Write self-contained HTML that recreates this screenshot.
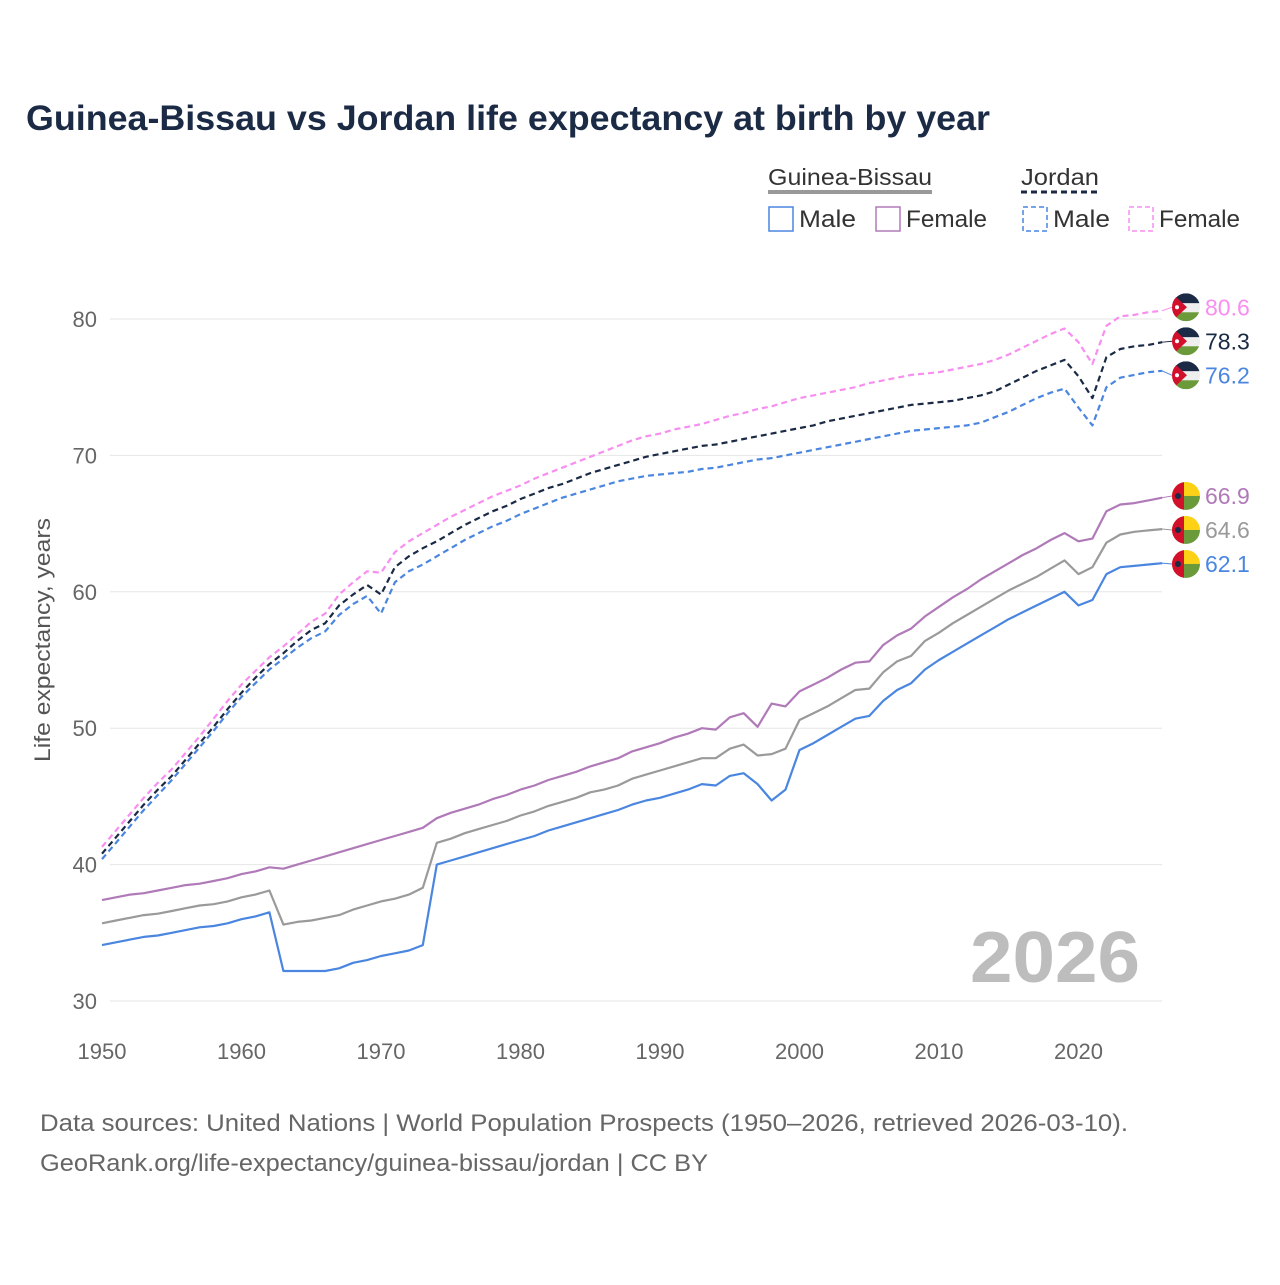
<!DOCTYPE html>
<html><head><meta charset="utf-8">
<style>
body{margin:0;background:#fff;font-family:"Liberation Sans",sans-serif;}
svg text{font-family:"Liberation Sans",sans-serif;}
</style></head>
<body>
<svg id="c" width="1280" height="1280" viewBox="0 0 1280 1280">
<text x="26" y="130" font-size="35" font-weight="bold" fill="#1c2b45" textLength="964" lengthAdjust="spacingAndGlyphs">Guinea-Bissau vs Jordan life expectancy at birth by year</text>
<g>
 <text x="768" y="185" font-size="23" fill="#333" textLength="164" lengthAdjust="spacingAndGlyphs">Guinea-Bissau</text>
 <line x1="768" y1="192" x2="932" y2="192" stroke="#999" stroke-width="4"/>
 <text x="1021" y="185" font-size="23" fill="#333" textLength="78" lengthAdjust="spacingAndGlyphs">Jordan</text>
 <line x1="1021" y1="192" x2="1099" y2="192" stroke="#1a2a44" stroke-width="3" stroke-dasharray="6,4"/>
 <g><rect x="769" y="207" width="24" height="24" fill="none" stroke="#4a86e0" stroke-width="1.5"/><text x="799" y="227" font-size="24" fill="#333" textLength="57" lengthAdjust="spacingAndGlyphs">Male</text></g>
 <g><rect x="876" y="207" width="24" height="24" fill="none" stroke="#b07ab8" stroke-width="1.5"/><text x="906" y="227" font-size="24" fill="#333" textLength="81" lengthAdjust="spacingAndGlyphs">Female</text></g>
 <g><rect x="1023" y="207" width="24" height="24" fill="none" stroke="#4a86e0" stroke-width="1.5" stroke-dasharray="5,3"/><text x="1053" y="227" font-size="24" fill="#333" textLength="57" lengthAdjust="spacingAndGlyphs">Male</text></g>
 <g><rect x="1129" y="207" width="24" height="24" fill="none" stroke="#f78ef0" stroke-width="1.5" stroke-dasharray="5,3"/><text x="1159" y="227" font-size="24" fill="#333" textLength="81" lengthAdjust="spacingAndGlyphs">Female</text></g>
</g>
<text transform="translate(50,640) rotate(-90)" text-anchor="middle" font-size="22" fill="#555" textLength="244" lengthAdjust="spacingAndGlyphs">Life expectancy, years</text>
<text x="1140" y="982" text-anchor="end" font-size="72" font-weight="bold" fill="#bdbdbd" textLength="170" lengthAdjust="spacingAndGlyphs">2026</text>
<g id="grid"></g><g id="lines"></g><g id="ends"></g>
<text x="40" y="1131" font-size="24" fill="#666" textLength="1088" lengthAdjust="spacingAndGlyphs">Data sources: United Nations | World Population Prospects (1950–2026, retrieved 2026-03-10).</text>
<text x="40" y="1171" font-size="24" fill="#666" textLength="668" lengthAdjust="spacingAndGlyphs">GeoRank.org/life-expectancy/guinea-bissau/jordan | CC BY</text>
</svg>
<script>
const startYear=1950;
const yTicks=[30,40,50,60,70,80];
const xTicks=[1950,1960,1970,1980,1990,2000,2010,2020];
const gbMale=[34.1,34.3,34.5,34.7,34.8,35.0,35.2,35.4,35.5,35.7,36.0,36.2,36.5,
32.2,32.2,32.2,32.2,32.4,32.8,33.0,33.3,33.5,33.7,34.1,
40.0,40.3,40.6,40.9,41.2,41.5,
41.8,42.1,42.5,42.8,43.1,43.4,43.7,44.0,44.4,44.7,
44.9,45.2,45.5,45.9,45.8,46.5,46.7,45.9,44.7,45.5,
48.4,48.9,49.5,50.1,50.7,50.9,52.0,52.8,53.3,54.3,
55.0,55.6,56.2,56.8,57.4,58.0,58.5,59.0,59.5,60.0,
59.0,59.4,61.3,61.8,61.9,62.0,62.1];
const gbTotal=[35.7,35.9,36.1,36.3,36.4,36.6,36.8,37.0,37.1,37.3,37.6,37.8,38.1,
35.6,35.8,35.9,36.1,36.3,36.7,37.0,37.3,37.5,37.8,38.3,
41.6,41.9,42.3,42.6,42.9,43.2,
43.6,43.9,44.3,44.6,44.9,45.3,45.5,45.8,46.3,46.6,
46.9,47.2,47.5,47.8,47.8,48.5,48.8,48.0,48.1,48.5,
50.6,51.1,51.6,52.2,52.8,52.9,54.1,54.9,55.3,56.4,
57.0,57.7,58.3,58.9,59.5,60.1,60.6,61.1,61.7,62.3,
61.3,61.8,63.6,64.2,64.4,64.5,64.6];
const gbFemale=[37.4,37.6,37.8,37.9,38.1,38.3,38.5,38.6,38.8,39.0,39.3,39.5,39.8,
39.7,40.0,40.3,40.6,40.9,41.2,41.5,41.8,42.1,42.4,42.7,
43.4,43.8,44.1,44.4,44.8,45.1,
45.5,45.8,46.2,46.5,46.8,47.2,47.5,47.8,48.3,48.6,
48.9,49.3,49.6,50.0,49.9,50.8,51.1,50.1,51.8,51.6,
52.7,53.2,53.7,54.3,54.8,54.9,56.1,56.8,57.3,58.2,
58.9,59.6,60.2,60.9,61.5,62.1,62.7,63.2,63.8,64.3,
63.7,63.9,65.9,66.4,66.5,66.7,66.9];
const joTotal=[40.8,42.0,43.2,44.4,45.5,46.5,47.7,48.9,50.1,51.4,
52.6,53.7,54.7,55.5,56.4,57.2,57.7,59.0,59.8,60.5,
59.8,61.8,62.6,63.2,63.7,64.3,64.9,65.4,65.9,66.3,
66.8,67.2,67.6,67.9,68.3,68.7,69.0,69.3,69.6,69.9,
70.1,70.3,70.5,70.7,70.8,71.0,71.2,71.4,71.6,71.8,
72.0,72.2,72.5,72.7,72.9,73.1,73.3,73.5,73.7,73.8,
73.9,74.0,74.2,74.4,74.7,75.2,75.7,76.2,76.6,77.0,
75.8,74.2,77.2,77.8,78.0,78.1,78.3];
const joMale=[40.4,41.6,42.8,44.0,45.1,46.2,47.4,48.6,49.8,51.1,
52.3,53.3,54.3,55.1,55.9,56.6,57.1,58.3,59.1,59.7,
58.4,60.7,61.5,62.0,62.6,63.2,63.8,64.3,64.8,65.2,
65.7,66.1,66.5,66.9,67.2,67.5,67.8,68.1,68.3,68.5,
68.6,68.7,68.8,69.0,69.1,69.3,69.5,69.7,69.8,70.0,
70.2,70.4,70.6,70.8,71.0,71.2,71.4,71.6,71.8,71.9,
72.0,72.1,72.2,72.4,72.8,73.2,73.7,74.2,74.6,74.9,
73.5,72.2,75.0,75.7,75.9,76.1,76.2];
const joFemale=[41.3,42.5,43.7,44.9,46.0,47.0,48.2,49.4,50.7,52.0,
53.2,54.2,55.2,56.0,56.9,57.8,58.4,59.8,60.7,61.5,
61.4,62.9,63.7,64.3,64.9,65.5,66.0,66.5,67.0,67.4,
67.8,68.3,68.7,69.1,69.5,69.9,70.3,70.7,71.1,71.4,
71.6,71.9,72.1,72.3,72.6,72.9,73.1,73.4,73.6,73.9,
74.2,74.4,74.6,74.8,75.0,75.3,75.5,75.7,75.9,76.0,
76.1,76.3,76.5,76.7,77.0,77.4,77.9,78.4,78.9,79.3,
78.3,76.7,79.5,80.2,80.3,80.5,80.6];

const NS='http://www.w3.org/2000/svg';
const X=yr=>102+(yr-1950)*13.95;
const Y=v=>1001-(v-30)*13.64;
function mk(tag,attrs,parent){const e=document.createElementNS(NS,tag);for(const k in attrs)e.setAttribute(k,attrs[k]);parent.appendChild(e);return e;}
const grid=document.getElementById('grid');
yTicks.forEach(t=>{
  const l=mk('line',{x1:110,x2:1162,y1:Y(t),y2:Y(t),stroke:'#e6e6e6','stroke-width':1},grid);
  
  
  const tx=mk('text',{x:97,y:Y(t)+8,'text-anchor':'end','font-size':22,fill:'#666'},grid);
  tx.textContent=t;
  
  
});
xTicks.forEach(t=>{
  const tx=mk('text',{x:X(t),y:1059,'text-anchor':'middle','font-size':22,fill:'#666'},grid);
  tx.textContent=t;
  
  
});
const series=[
 {d:gbMale,c:'#4a86e0',dash:null,n:'gb-male',lc:'#4a86e0',flag:'gb'},
 {d:gbTotal,c:'#9a9a9a',dash:null,n:'gb-total',lc:'#999',flag:'gb'},
 {d:gbFemale,c:'#b07ab8',dash:null,n:'gb-female',lc:'#b07ab8',flag:'gb'},
 {d:joMale,c:'#4a86e0',dash:'6,4',n:'jo-male',lc:'#4a86e0',flag:'jo'},
 {d:joTotal,c:'#1a2a44',dash:'6,4',n:'jo-total',lc:'#1a2a44',flag:'jo'},
 {d:joFemale,c:'#f78ef0',dash:'6,4',n:'jo-female',lc:'#f78ef0',flag:'jo'}
];
// label positions with collision avoidance
const items=series.map(s=>({s:s,y:Y(s.d[s.d.length-1])})).sort((a,b)=>a.y-b.y);
for(let it=0;it<50;it++){
  for(let i=1;i<items.length;i++){
    const gap=items[i].y-items[i-1].y;
    if(gap<34){const m=(34-gap)/2;items[i].y+=m;items[i-1].y-=m;}
  }
}
const lines=document.getElementById('lines'),ends=document.getElementById('ends');
series.forEach(s=>{
  const pts=s.d.map((v,i)=>X(startYear+i).toFixed(1)+','+Y(v).toFixed(1)).join(' ');
  const a={points:pts,fill:'none',stroke:s.c,'stroke-width':2.2,'stroke-linejoin':'round'};
  if(s.dash)a['stroke-dasharray']=s.dash;
  const p=mk('polyline',a,lines);
  
  
});
items.forEach(o=>{
  const s=o.s;
  const last=s.d[s.d.length-1];
  const cy=o.y,cx=1186;
  const g=mk('g',{},ends);
  
  
  mk('line',{x1:1162,y1:Y(last),x2:1172,y2:cy,stroke:s.c,'stroke-width':1},g);
  const cid='clip-'+s.n;
  const cp=mk('clipPath',{id:cid},g);mk('circle',{cx:cx,cy:cy,r:14},cp);
  const fg=mk('g',{'clip-path':'url(#'+cid+')'},g);
  if(s.flag==='jo'){
    mk('rect',{x:cx-14,y:cy-14,width:28,height:10,fill:'#1b2a45'},fg);
    mk('rect',{x:cx-14,y:cy-4,width:28,height:9,fill:'#eeeeee'},fg);
    mk('rect',{x:cx-14,y:cy+5,width:28,height:9,fill:'#6a9a3a'},fg);
    mk('polygon',{points:(cx-14)+','+(cy-14)+' '+(cx+1)+','+cy+' '+(cx-14)+','+(cy+14),fill:'#d3102c'},fg);
    mk('circle',{cx:cx-9,cy:cy,r:2,fill:'#fff'},fg);
  } else {
    mk('rect',{x:cx-14,y:cy-14,width:28,height:14,fill:'#fcd116'},fg);
    mk('rect',{x:cx-14,y:cy,width:28,height:14,fill:'#6a9a3a'},fg);
    mk('rect',{x:cx-14,y:cy-14,width:12,height:28,fill:'#d3102c'},fg);
    mk('circle',{cx:cx-8,cy:cy,r:3,fill:'#1b2a45'},fg);
  }
  const t=mk('text',{x:1205,y:cy+8,'font-size':23,fill:s.lc},g);
  t.textContent=last.toFixed(1);
});
</script>
</body></html>
